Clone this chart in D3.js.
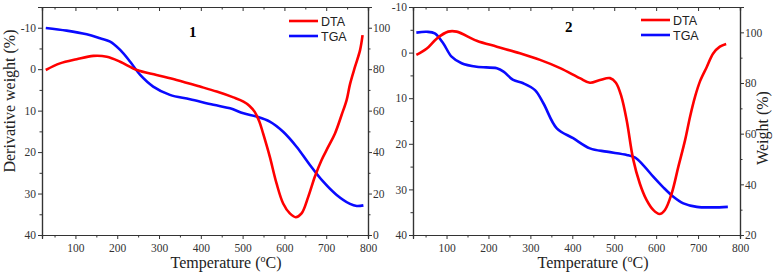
<!DOCTYPE html>
<html>
<head>
<meta charset="utf-8">
<script src="https://cdn.jsdelivr.net/npm/d3@7"></script>
<style>
  body { margin: 0; background: #fff; }
  .domain, .tick line { stroke: #333; }
</style>
</head>
<body>
<div id="container"></div>
<script>
let w = 775;
let h = 278;

// temperature ticks (°C)
let tempMajor = [100, 200, 300, 400, 500, 600, 700, 800];
let tempMinor = [50, 150, 250, 350, 450, 550, 650, 750];

// sample 1: [temperature, derivative weight %] and [temperature, weight %]
let dta1 = [[29,0.2],[63,-1.4],[103,-2.4],[143,-3.2],[175,-3.0],[207,-1.8],[247,0.2],[294,1.4],[342,2.6],
  [398,4.2],[438,5.4],[478,6.8],[502,7.8],[516,8.8],[529,10.3],[540,12.6],[549,15.5],[565,21.1],[581,27.5],[597,32.4],
  [613,34.8],[627,35.7],[641,34.8],[657,30.8],[673,25.9],[689,21.9],[705,18.7],[721,15.5],[737,11],
  [749,7.4],[757,3.6],[769,-0.6],[781,-4.6],[787,-8.2]];
let tga1 = [[29,99.9],[79,98.6],[127,96.8],[159,94.9],[183,93.3],[207,89.3],[231,83.6],[255,77.2],[286,71.6],
  [326,67.6],[374,65.5],[430,62.8],[470,61.1],[502,58.7],[534,57.1],[565,54.7],[597,49.8],[629,42.6],
  [661,33.8],[693,25.7],[725,19.3],[757,15],[773,14],[789,14.3]];

// sample 2
let dta2 = [[28,0.5],[53,-0.9],[77,-3.1],[104,-4.6],[124,-4.6],[172,-2.6],[220,-1.3],[275,0.15],[323,1.6],
  [371,3.4],[418,5.6],[442,6.6],[466,6],[490,5.6],[504,6.6],[517,9.6],[530,15],[545,23.3],[561,28.7],
  [577,32.3],[593,34.5],[608,35.4],[621,34.5],[637,30.9],[653,25],[669,19.2],[681,14],[693,9.6],
  [705,6.2],[721,3.1],[736,0.2],[752,-1.3],[767,-1.9]];
let tga2 = [[28,99.9],[53,100.2],[72,99.6],[92,95.7],[112,90.4],[136,87.8],[172,86.4],[220,85.8],[236,84.5],
  [259,81.2],[283,79.9],[311,77.2],[331,72],[363,62.1],[402,58.2],[442,54.2],[482,52.9],[530,51.6],
  [550,50.5],[569,47.6],[593,43],[617,38.8],[641,35.1],[665,32.5],[697,31.1],[736,30.9],[771,31.1]];

let leftTicks1 = [-10, 0, 10, 20, 30, 40];
let leftTicks2 = [-10, 0, 10, 20, 30, 40];
let rightTicks1 = [0, 20, 40, 60, 80, 100];
let rightTicks2 = [20, 40, 60, 80, 100];

let viz = d3.select('#container')
  .append('svg')
    .attr('width', w)
    .attr('height', h)
    .style('background-color', 'white');

let serif = '"Liberation Serif", "Times New Roman", serif';
let sans = '"Liberation Sans", Arial, sans-serif';

function drawPanel(p){
  let top = 7, bottom = 235;
  let xScale = d3.scaleLinear().domain([20, 800]).range([p.x0, p.x1]);
  let yLeft = d3.scaleLinear().domain(p.leftDomain).range([top, bottom]);
  let yRight = d3.scaleLinear().domain(p.rightDomain).range([top, bottom]);

  let g = viz.append('g');

  // bottom axis
  g.append('g').attr('transform', 'translate(0,' + bottom + ')')
    .call(d3.axisBottom(xScale).tickValues(tempMajor).tickSize(4).tickPadding(5).tickFormat(d3.format('d')));
  g.append('g').attr('transform', 'translate(0,' + bottom + ')')
    .call(d3.axisBottom(xScale).tickValues(tempMinor).tickSize(2.5).tickFormat(''));
  // top axis, ticks inward
  g.append('g').attr('transform', 'translate(0,' + top + ')')
    .call(d3.axisBottom(xScale).tickValues(tempMajor).tickSize(4).tickFormat(''));
  g.append('g').attr('transform', 'translate(0,' + top + ')')
    .call(d3.axisBottom(xScale).tickValues(tempMinor).tickSize(2.5).tickFormat(''));

  // left axis
  g.append('g').attr('transform', 'translate(' + p.x0 + ',0)')
    .call(d3.axisLeft(yLeft).tickValues(p.leftTicks).tickSize(4).tickPadding(2).tickFormat(d => d < 0 ? '-' + (-d) : d));
  g.append('g').attr('transform', 'translate(' + p.x0 + ',0)')
    .call(d3.axisLeft(yLeft).tickValues(p.leftTicks.map(d => d + 5).filter(d => d < p.leftDomain[1])).tickSize(2.5).tickFormat(''));

  // right axis
  g.append('g').attr('transform', 'translate(' + p.x1 + ',0)')
    .call(d3.axisRight(yRight).tickValues(p.rightTicks).tickSize(4).tickPadding(1));
  g.append('g').attr('transform', 'translate(' + p.x1 + ',0)')
    .call(d3.axisRight(yRight).tickValues(p.rightTicks.map(d => d + 10).filter(d => d < p.rightDomain[0])).tickSize(2.5).tickFormat(''));

  g.selectAll('.domain').attr('stroke-width', 1.2);
  g.selectAll('.tick text')
    .style('font-family', serif).style('font-size', '11.5px').attr('fill', '#333');

  let dtaLine = d3.line().x(d => xScale(d[0])).y(d => yLeft(d[1])).curve(d3.curveCatmullRom);
  let tgaLine = d3.line().x(d => xScale(d[0])).y(d => yRight(d[1])).curve(d3.curveCatmullRom);

  g.append('path').datum(p.tga).attr('d', tgaLine)
    .attr('fill', 'none').attr('stroke', '#0a0aff').attr('stroke-width', 2.6);
  g.append('path').datum(p.dta).attr('d', dtaLine)
    .attr('fill', 'none').attr('stroke', '#ff0000').attr('stroke-width', 2.6);

  // panel number
  g.append('text').attr('x', p.numX).attr('y', p.numY).text(p.num)
    .style('font-family', serif).style('font-weight', 'bold').style('font-size', '15px');

  // legend
  let leg = [['DTA', '#ff0000'], ['TGA', '#0a0aff']];
  leg.forEach(function(l, i){
    let ly = p.legY + i * 15;
    g.append('line').attr('x1', p.legX).attr('x2', p.legX + 29).attr('y1', ly).attr('y2', ly)
      .attr('stroke', l[1]).attr('stroke-width', 2.6);
    g.append('text').attr('x', p.legX + 32).attr('y', ly + 4.5).text(l[0])
      .style('font-family', sans).style('font-size', '12.5px').attr('fill', '#222');
  });

  // x title
  let t = g.append('text').attr('x', p.titleX).attr('y', 268).attr('text-anchor', 'middle')
    .style('font-family', serif).style('font-size', '16px').attr('fill', '#222');
  t.append('tspan').text('Temperature (');
  t.append('tspan').text('o').attr('dy', -6).style('font-size', '10px');
  t.append('tspan').text('C)').attr('dy', 6);
}

drawPanel({x0: 42, x1: 368, leftDomain: [-15, 40], rightDomain: [110, 0],
  leftTicks: leftTicks1, rightTicks: rightTicks1, dta: dta1, tga: tga1,
  num: '1', numX: 189, numY: 37, legX: 289, legY: 21, titleX: 226});
drawPanel({x0: 413, x1: 740, leftDomain: [-10, 40], rightDomain: [110, 20],
  leftTicks: leftTicks2, rightTicks: rightTicks2, dta: dta2, tga: tga2,
  num: '2', numX: 565, numY: 32, legX: 641, legY: 20, titleX: 593});

// y titles
viz.append('text').attr('transform', 'translate(15,101) rotate(-90)').attr('text-anchor', 'middle')
  .style('font-family', serif).style('font-size', '16px').attr('fill', '#222').text('Derivative weight (%)');
viz.append('text').attr('transform', 'translate(768,128) rotate(-90)').attr('text-anchor', 'middle')
  .style('font-family', serif).style('font-size', '16px').attr('fill', '#222').text('Weight (%)');
</script>
</body>
</html>
